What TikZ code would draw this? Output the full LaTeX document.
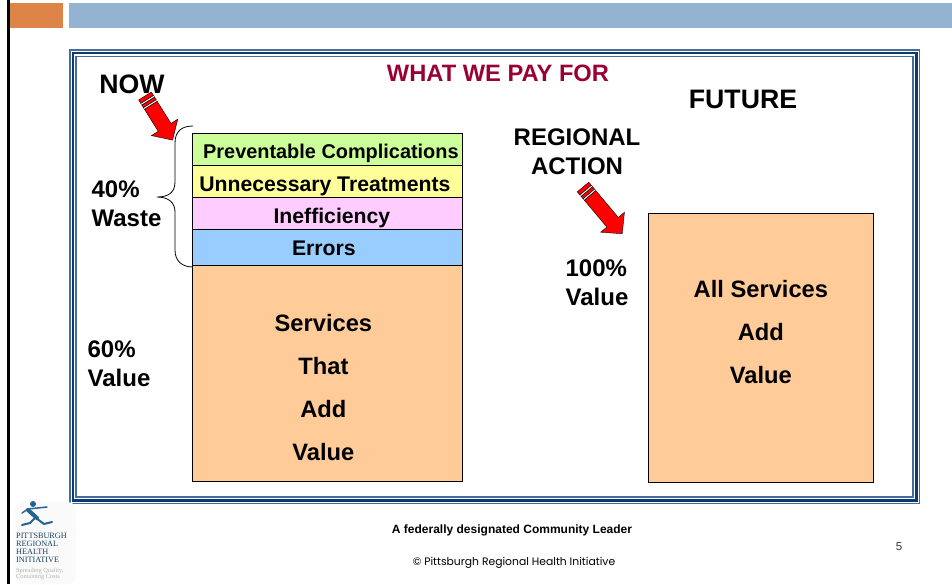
\documentclass[tikz,border=0pt]{standalone}
\usepackage{fontspec}
\setmainfont{Liberation Sans}
\newfontfamily\logofont{Liberation Serif}
\newfontfamily\footfont{Poppins}
\definecolor{barorange}{RGB}{222,132,73}
\definecolor{barblue}{RGB}{148,179,209}
\definecolor{framedark}{RGB}{10,60,115}
\definecolor{framemid}{RGB}{70,110,150}
\definecolor{titlered}{RGB}{153,0,51}
\definecolor{boxgreen}{RGB}{204,255,153}
\definecolor{boxyellow}{RGB}{255,255,153}
\definecolor{boxpink}{RGB}{255,204,255}
\definecolor{boxblue}{RGB}{153,204,255}
\definecolor{boxpeach}{RGB}{255,204,153}
\definecolor{logoblue}{RGB}{35,100,145}
\tikzset{
  bigtext/.style={font=\fontsize{24}{29}\selectfont\bfseries,align=left,inner sep=0},
  rowbox/.style={draw=black,thick,anchor=north west,inner sep=0,minimum width=270pt,text depth=0pt,font=\fontsize{21.2}{24}\selectfont\bfseries},
  valuebox/.style={draw=black,thick,anchor=north west,inner sep=0,fill=boxpeach,align=center,font=\fontsize{23.7}{43}\selectfont\bfseries},
  logotext/.style={font=\fontsize{8.2}{8}\selectfont\logofont,text=logoblue!65!black,align=left,inner sep=0,anchor=north west}
}
% one arrow, length #3, tail at #1
\newcommand{\redarrow}[3]{
\begin{scope}[shift={(#1)},rotate=#2]
\draw [fill=red,draw=black] (0,-7.5)--(#3-15,-7.5)--(#3-15,-15.5)--(#3,0)--(#3-15,15.5)--(#3-15,7.5)--(0,7.5)--cycle;
\draw [black,line width=2.5pt] (5,-7.5)--(5,7.5);
\draw [white,line width=1pt] (5,-7.5)--(5,7.5);
\draw [black,line width=2.5pt] (10,-7.5)--(10,7.5);
\draw [white,line width=1pt] (10,-7.5)--(10,7.5);
\end{scope}
}
\begin{document}
\begin{tikzpicture}[x=1pt,y=-1pt]
\useasboundingbox (0,0) rectangle (952,584);
% top bars and left rule
\fill [barorange] (9,3) rectangle (63,28);
\fill [barblue] (69,3) rectangle (952,28);
\fill [black] (7,0) rectangle (9.5,584);
% frame
\draw [framemid,line width=1.5pt] (69.75,49.75) rectangle (919.25,503.25);
\draw [framedark,line width=2.5pt] (72.75,52.75) rectangle (916.25,500.25);
\draw [framemid,line width=1.2pt] (76,56.5) rectangle (913,497);
% left column
\node [rowbox,fill=boxgreen,minimum height=32pt,text height=18pt,font=\fontsize{19.9}{24}\selectfont\bfseries] (prevent) at (192,133) {\hspace*{7pt}Preventable Complications};
\node [rowbox,fill=boxyellow,minimum height=32pt,text height=21pt] (unnecessary) at (192,165) {Unnecessary Treatments\hspace*{5pt}};
\node [rowbox,fill=boxpink,minimum height=32pt,text height=21pt] (inefficiency) at (192,197) {\hspace*{9pt}Inefficiency};
\node [rowbox,fill=boxblue,minimum height=36pt,text height=17pt] (errors) at (192,229) {Errors\hspace*{7pt}};
\node [valuebox,minimum width=270pt,minimum height=216pt] (services) at (192,265) {\mbox{}\\[3pt]Services\kern8pt\\That\kern8pt\\Add\kern8pt\\Value\kern8pt};
% right column
\node [valuebox,minimum width=225pt,minimum height=269pt] (allservices) at (648,213) {All Services\\Add\\Value\\[-12pt]\mbox{}};
% labels
\node [bigtext,text=titlered,font=\fontsize{23.7}{29}\selectfont\bfseries] (title) at (498,73.5) {WHAT WE PAY FOR};
\node [bigtext,font=\fontsize{26.7}{29}\selectfont\bfseries] (now) at (132,84) {NOW};
\node [bigtext,font=\fontsize{26.7}{29}\selectfont\bfseries] (future) at (743,99.5) {FUTURE};
\node [bigtext,align=center] (regional) at (577,152) {REGIONAL\\ACTION};
\node [bigtext] (waste) at (126.5,204) {40\%\\Waste};
\node [bigtext] (sixty) at (119,364) {60\%\\Value};
\node [bigtext] (hundred) at (597,283) {100\%\\Value};
% brace
\draw [black,thick] (193,126) .. controls (182,126) and (175,131) .. (175,143)--(175,182) .. controls (175,192) and (169,197) .. (157,197) .. controls (169,197) and (175,203) .. (175,212)--(175,250) .. controls (175,261) and (182,267) .. (193,267);
% arrows
\redarrow{145,96}{-58}{52}
\redarrow{583,187}{-50}{61}
% footer
\node [font=\fontsize{12}{12}\selectfont\bfseries,inner sep=0] (leader) at (512,530) {A federally designated Community Leader};
\node [font=\fontsize{10.8}{12}\selectfont\footfont,inner sep=0] (copyright) at (514,563) {© Pittsburgh Regional Health Initiative};
\node [font=\fontsize{11.5}{12}\selectfont,inner sep=0,text=black!80] (pagenum) at (899,547) {5};
% logo
\fill [black!2,rounded corners=8pt] (15,502) rectangle (76,584);
\draw [logoblue,line width=4pt,line cap=round] (28,510)--(37,518);
\draw [logoblue,line width=1.5pt,line cap=round] (22,513)--(28,509)--(47,507);
\draw [logoblue,line width=2pt,line cap=round] (36,518)--(44,524)--(52,522);
\draw [logoblue,line width=2pt,line cap=round] (35,518)--(30,523)--(22,525);
\fill [logoblue] (33,504) circle (3);
\node [logotext] (logoname) at (16,533) {PITTSBURGH\\REGIONAL\\HEALTH\\INITIATIVE};
\node [logotext,font=\fontsize{6.3}{6.5}\selectfont\logofont,text=black!30] (logotag) at (16,567.5) {Spreading Quality,\\Containing Costs};
\end{tikzpicture}
\end{document}
